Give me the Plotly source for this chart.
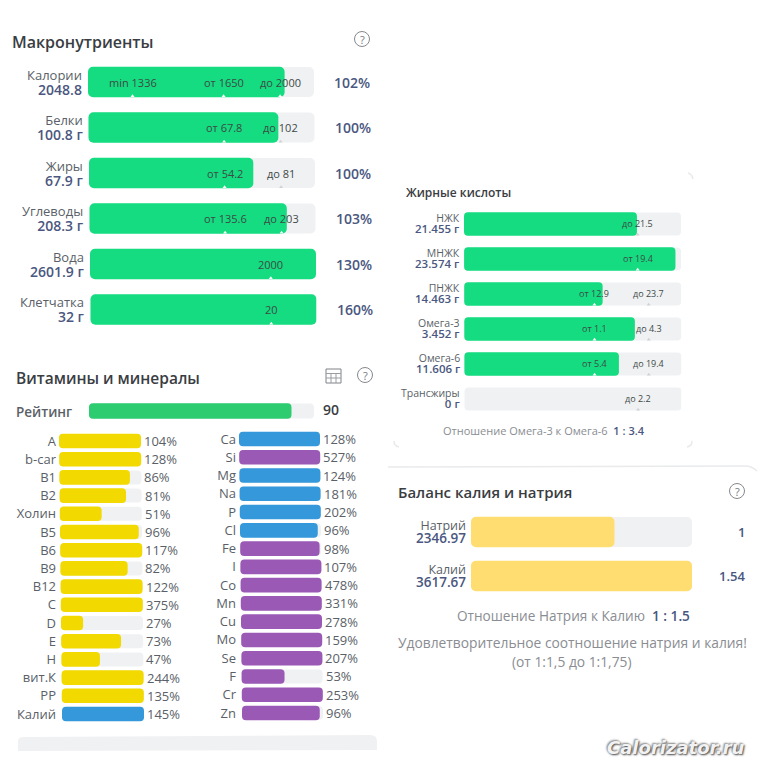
import plotly.graph_objects as go

# ---------- data ----------
macro_names = ["Калории", "Белки", "Жиры", "Углеводы", "Вода", "Клетчатка"]
macro_values = ["2048.8", "100.8 г", "67.9 г", "208.3 г", "2601.9 г", "32 г"]
macro_fill = [87, 84, 72.7, 87.3, 100, 100]
macro_pct = ["102%", "100%", "100%", "103%", "130%", "160%"]
macro_marks = [
    [("min 1336", 19.7), ("от 1650", 60), ("до 2000", 85)],
    [("от 67.8", 60), ("до 102", 85)],
    [("от 54.2", 60), ("до 81", 85)],
    [("от 135.6", 60), ("до 203", 85)],
    [("2000", 80)],
    [("20", 80)],
]

rating_label = ["Рейтинг"]
rating_value = [90]

vit_names = ["A", "b-car", "B1", "B2", "Холин", "B5", "B6", "B9", "B12", "C", "D", "E", "H", "вит.К", "PP", "Калий"]
vit_pct = [104, 128, 86, 81, 51, 96, 117, 82, 122, 375, 27, 73, 47, 244, 135, 145]
vit_group = ["v"] * 15 + ["m"]

min_names = ["Ca", "Si", "Mg", "Na", "P", "Cl", "Fe", "I", "Co", "Mn", "Cu", "Mo", "Se", "F", "Cr", "Zn"]
min_pct = [128, 527, 124, 181, 202, 96, 98, 107, 478, 331, 278, 159, 207, 53, 253, 96]
min_group = ["m", "t", "m", "m", "m", "m", "t", "t", "t", "t", "t", "t", "t", "t", "t", "t"]

fat_names = ["НЖК", "МНЖК", "ПНЖК", "Омега-3", "Омега-6", "Трансжиры"]
fat_values = ["21.455 г", "23.574 г", "14.463 г", "3.452 г", "11.606 г", "0 г"]
fat_fill = [79.7, 97.4, 63.8, 78.6, 71.2, 0]
fat_marks = [
    [("до 21.5", 80)],
    [("от 19.4", 80)],
    [("от 12.9", 60), ("до 23.7", 85)],
    [("от 1.1", 60), ("до 4.3", 85)],
    [("от 5.4", 60), ("до 19.4", 85)],
    [("до 2.2", 80)],
]

bal_names = ["Натрий", "Калий"]
bal_values = ["2346.97", "3617.67"]
bal_ratio = [1, 1.54]

# ---------- style ----------
FONT = "Open Sans"
TRACK = "#f0f1f3"
GREEN = "#15dc80"
NAME = "#5a5f68"
VALUE = "#4a5780"
DARK = "#3a3d42"
GREY = "#8a8d92"
GROUP_COL = {"v": "#f2d900", "m": "#3498db", "t": "#9b59b6"}

fig = go.Figure()
annotations, shapes = [], []
layout_axes = {}
axis_no = 0


def X(p):
    return p / 768


def Y(p):
    return 1 - p / 768


def txt(text, x, y, size, color=NAME, anchor="left", weight=None, **kw):
    annotations.append(dict(
        text=text, x=x, y=y, xref=kw.pop("xref", "paper"), yref=kw.pop("yref", "paper"),
        xanchor=anchor, yanchor="middle", showarrow=False, borderpad=0,
        font=dict(family=FONT, size=size, color=color, weight=weight), **kw))


def ptxt(text, px, py, size, color=NAME, anchor="left", weight=None, **kw):
    txt(text, X(px), Y(py), size, color, anchor, weight, **kw)


def panel(colors, fills, x0, w, y_first, y_last, h, skew=0, radius=5, ticks=None, tick_size=13,
          track=True):
    """Create a bar panel; x0 / w / y are the on-page pixel placement of the tracks."""
    global axis_no
    axis_no += 1
    n = len(fills)
    s = (y_last - y_first) / (n - 1) if n > 1 else h * 1.2
    unit = w / 100
    skew_u = skew / unit
    xmax = 100 + (n - 1) * skew_u
    xname, yname = f"x{axis_no}", f"y{axis_no}"
    rows = list(range(n))
    bases = [r * skew_u for r in rows]
    if track:
        fig.add_trace(go.Bar(
            x=[100] * n, y=rows, base=bases, orientation="h", width=h / s,
            marker=dict(color=TRACK, cornerradius=radius, line_width=0),
            xaxis=xname, yaxis=yname, showlegend=False, hoverinfo="skip"))
    fig.add_trace(go.Bar(
        x=fills, y=rows, base=bases, orientation="h", width=(h + 0.6) / s,
        marker=dict(color=colors, cornerradius=radius, line_width=0),
        xaxis=xname, yaxis=yname, showlegend=False))
    suffix = "" if axis_no == 1 else str(axis_no)
    layout_axes["xaxis" + suffix] = dict(
        domain=[X(x0), X(x0 + w + (n - 1) * skew)], range=[0, xmax], visible=False,
        anchor=yname, fixedrange=True)
    ax = dict(
        domain=[Y(y_last + s / 2), Y(y_first - s / 2)], range=[n - 0.5, -0.5],
        anchor=xname, showgrid=False, zeroline=False, showline=False, fixedrange=True,
        tickmode="array", tickvals=rows if ticks else [], ticktext=ticks or [],
        ticks="", ticklabelstandoff=2,
        tickfont=dict(family=FONT, size=tick_size, color=NAME))
    layout_axes["yaxis" + suffix] = ax
    return dict(x=xname, y=yname, dom=xname + " domain", skew=skew_u, s=s, h=h)


def row_text(p, text, row, dx, size, color, anchor, xpos, yshift=0, weight=None, **kw):
    txt(text, xpos + row * p["skew"], row, size, color, anchor, weight,
        xref=p["x"], yref=p["y"], xshift=dx, yshift=yshift, **kw)


def two_line(p, name, value, row, dx, line_h, name_size, value_size):
    """One text of two lines; the base font size sets the tight line spacing."""
    body = (f"<span style='font-size:{name_size}px;color:{NAME}'>{name}</span><br>"
            f"<span style='font-size:{value_size}px;color:{VALUE};font-weight:600'>{value}</span>")
    row_text(p, body, row, dx, line_h / 1.3, VALUE, "right", 0, align="right")


def marks(p, rows_marks, fills, size):
    for r, row in enumerate(rows_marks):
        for label, pos in row:
            row_text(p, label, r, 0, size, "#3d4a46", "center", pos)
            on_fill = pos < fills[r]
            fig.add_trace(go.Scatter(
                x=[pos + r * p["skew"]], y=[r + (p["h"] / 2 - 1) / p["s"]], mode="markers",
                marker=dict(symbol="triangle-up", size=3.5, color="#ffffff" if on_fill else "#cfd2d6",
                            line_width=0),
                xaxis=p["x"], yaxis=p["y"], showlegend=False, hoverinfo="skip"))


def help_icon(cx, cy, r=7.5):
    shapes.append(dict(type="circle", xref="paper", yref="paper",
                       x0=X(cx - r), x1=X(cx + r), y0=Y(cy + r), y1=Y(cy - r),
                       line=dict(color="#85888c", width=1)))
    ptxt("?", cx, cy + 0.5, 11, "#77797d", "center")


# ---------- Macronutrients ----------
ptxt("Макронутриенты", 11, 42, 16, DARK, weight=600)
help_icon(362, 39)
p = panel([GREEN] * 6, macro_fill, 88, 226, 82, 309.5, 30, skew=0.5, radius=5)
marks(p, macro_marks, macro_fill, 11)
for i in range(6):
    two_line(p, macro_names[i], macro_values[i], i, -5, 15, 13, 14)
    row_text(p, macro_pct[i], i, 19, 14, VALUE, "left", 100, weight=600)

# ---------- Vitamins & minerals ----------
ptxt("Витамины и минералы", 15, 378, 15.5, DARK, weight=600)
help_icon(365, 375)
# table icon
shapes.append(dict(type="rect", xref="paper", yref="paper", x0=X(326), x1=X(341), y0=Y(383), y1=Y(369),
                   line=dict(color="#7f8388", width=1)))
for yy in (373.5, 378):
    shapes.append(dict(type="line", xref="paper", yref="paper", x0=X(326), x1=X(341), y0=Y(yy), y1=Y(yy),
                       line=dict(color="#9a9da1", width=1)))
for xx in (331, 336):
    shapes.append(dict(type="line", xref="paper", yref="paper", x0=X(xx), x1=X(xx), y0=Y(373.5), y1=Y(383),
                       line=dict(color="#9a9da1", width=1)))

ptxt(rating_label[0], 15, 412, 13.5, NAME, weight=600)
p = panel(["#2ecc71"], rating_value, 89, 225, 411, 411, 15, radius=4)
row_text(p, str(rating_value[0]), 0, 8, 14, "#3a3d42", "left", 100, yshift=2, weight=600)

for names, pct, group, x0, w, y0, y1, sk in (
    (vit_names, vit_pct, vit_group, 59, 82, 441, 714, 3 / 15),
    (min_names, min_pct, min_group, 239, 81, 439, 713, 3 / 15),
):
    p = panel([GROUP_COL[g] for g in group], [min(v, 100) for v in pct], x0, w, y0, y1, 14,
              skew=sk, radius=4, ticks=names, tick_size=13)
    for i, v in enumerate(pct):
        row_text(p, f"{v}%", i, 2, 13, NAME, "left", 100)

shapes.append(dict(type="path", xref="paper", yref="paper", line_width=0, fillcolor=TRACK,
                   path=f"M {X(18)} {Y(751)} L {X(18)} {Y(741)} Q {X(18)} {Y(737)} {X(24)} {Y(737)} "
                        f"L {X(370)} {Y(735)} Q {X(377)} {Y(735)} {X(377)} {Y(741)} L {X(377)} {Y(750)} Z"))

# ---------- Fatty acids ----------
ptxt("Жирные кислоты", 405, 193, 12, DARK, weight=600)
p = panel([GREEN] * 6, fat_fill, 464, 217, 224, 399, 23, skew=0.1, radius=4)
marks(p, fat_marks, fat_fill, 9)
for i in range(6):
    two_line(p, fat_names[i], fat_values[i], i, -3.5, 11, 10.5, 11.5)
ptxt(f"Отношение Омега-3 к Омега-6  <span style='color:{VALUE};font-weight:600'>1 : 3.4</span>",
     544, 430, 11, GREY, "center")

# ---------- K / Na balance ----------
ptxt("Баланс калия и натрия", 397, 492, 15, DARK, weight=600)
help_icon(737, 491)
bal_fill = [100 * r / max(bal_ratio) for r in bal_ratio]
p = panel(["#ffdd70"] * 2, bal_fill, 471, 221, 532, 576, 30, radius=5)
for i in range(2):
    two_line(p, bal_names[i], bal_values[i], i, -4.5, 13, 12.5, 13.5)
    row_text(p, str(bal_ratio[i]), i, 54, 13, VALUE, "right", 100, weight=600)
ptxt(f"Отношение Натрия к Калию  <span style='color:{VALUE};font-weight:600'>1 : 1.5</span>",
     573, 615, 13.6, GREY, "center")
ptxt("Удовлетворительное соотношение натрия и калия!", 572, 642, 13.8, GREY, "center")
ptxt("(от 1:1,5 до 1:1,75)", 572, 661, 13.8, GREY, "center")

# faint card edges
for path in (
    f"M {X(388)} {Y(467)} L {X(745)} {Y(466)} Q {X(752)} {Y(466)} {X(757)} {Y(471)}",
    f"M {X(394)} {Y(441)} Q {X(394)} {Y(446)} {X(399)} {Y(447)}",
    f"M {X(692)} {Y(441)} Q {X(692)} {Y(446)} {X(687)} {Y(447)}",
    f"M {X(688)} {Y(173)} Q {X(692)} {Y(174)} {X(693)} {Y(179)}",
):
    shapes.append(dict(type="path", xref="paper", yref="paper", path=path,
                       line=dict(color="#e9eaec", width=1.5)))

# watermark
annotations.append(dict(
    text="<b><i>Calorizator.ru</i></b>", x=X(676), y=Y(747), xref="paper", yref="paper",
    xanchor="center", yanchor="middle", showarrow=False,
    font=dict(family="DejaVu Sans", size=18, color="#f2f2f2",
              shadow="1px 1px 2px #444, -1px -1px 2px #888")))

fig.update_layout(
    width=768, height=768, margin=dict(l=0, r=0, t=0, b=0),
    paper_bgcolor="#ffffff", plot_bgcolor="#ffffff",
    barmode="overlay", showlegend=False, hovermode=False,
    annotations=annotations, shapes=shapes, **layout_axes)

fig.write_html("out.html", config=dict(displayModeBar=False),
               post_script="document.body.style.margin='0';document.body.style.overflow='hidden';")
